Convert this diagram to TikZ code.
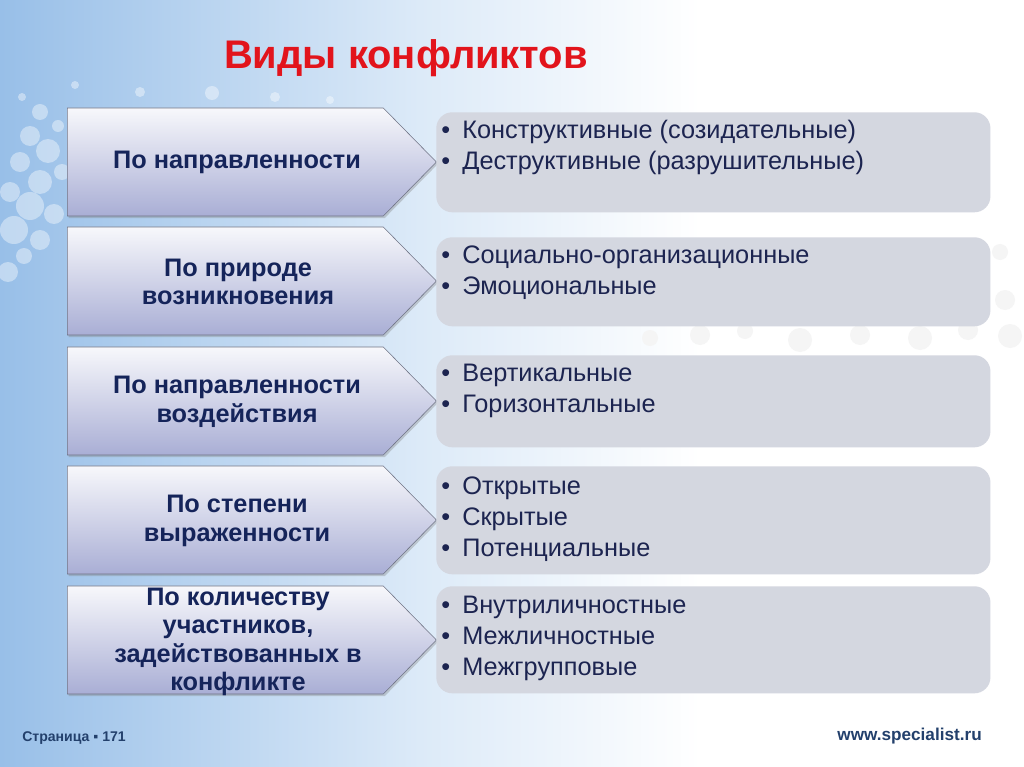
\documentclass[tikz,border=0pt]{standalone}
\usepackage{fontspec}
\setmainfont{Liberation Sans}
\usetikzlibrary{shapes.symbols,shadows}

\definecolor{bgblue}{HTML}{98BFE8}
\definecolor{bgmid}{HTML}{DCEAF8}
\definecolor{titlered}{HTML}{E2141C}
\definecolor{navy}{HTML}{15245A}
\definecolor{itemnavy}{HTML}{1C2450}
\definecolor{chevblue}{HTML}{A9AED5}
\definecolor{chevedge}{HTML}{6F7385}
\definecolor{boxgray}{HTML}{D4D7E0}
\definecolor{footnavy}{HTML}{23406C}

\newcommand{\itm}[1]{\makebox[15pt][l]{•}#1}

\begin{document}
\begin{tikzpicture}[x=0.025cm, y=-0.025cm,
    kind/.style ={signal, signal to=east, signal pointer angle=91,
      draw=chevedge, top color=white!70!chevblue!30, bottom color=chevblue,
      minimum width=9.225cm, minimum height=2.7cm, inner sep=0pt,
      drop shadow={opacity=0.35, shadow xshift=1pt, shadow yshift=-1.5pt}},
    kindtext/.style ={align=center, text=navy, inner sep=0pt,
      font=\bfseries\fontsize{18}{20.3}\selectfont},
    group/.style ={rectangle, rounded corners=0.4cm, fill=boxgray,
      minimum width=13.85cm, anchor=north west, inner sep=0pt},
    items/.style ={anchor=north west, align=left, text=itemnavy,
      inner sep=0pt, font=\fontsize{18}{22}\selectfont},
    foot/.style ={inner sep=0pt, text=footnavy}]
   % background
   \useasboundingbox (0,0) rectangle (1024,767);
   \fill[white] (0,0) rectangle (1024,767);
   \shade[left color=bgblue, right color=bgmid] (0,0) rectangle (420,767);
   \shade[left color=bgmid, right color=white] (420,0) rectangle (700,767);
   \foreach \x/\y/\r in {22/97/4, 40/112/8, 58/126/6, 30/136/10, 48/151/12,
       20/162/10, 62/172/8, 40/182/12, 10/192/10, 30/206/14, 54/214/10,
       14/230/14, 40/240/10, 24/256/8, 8/272/10, 75/85/4, 140/92/5,
       212/93/7, 275/97/5, 330/100/4}
     \fill[white, opacity=0.4] (\x,\y) circle[radius=\r*0.025cm];
   \foreach \x/\y/\r in {650/338/8, 700/335/10, 745/331/8, 800/340/12,
       860/335/10, 920/338/12, 968/330/10, 1005/300/10, 1010/336/12, 1000/252/8}
     \fill[gray!8] (\x,\y) circle[radius=\r*0.025cm];

   % title
   \node[font=\bfseries\fontsize{28.4}{32}\selectfont, text=titlered] (heading) at (406,58) {Виды конфликтов};

   % categories
   \node[kind, anchor=west] (k1) at (67,162) {};
   \node[kind, anchor=west] (k2) at (67,281) {};
   \node[kind, anchor=west] (k3) at (67,401) {};
   \node[kind, anchor=west] (k4) at (67,520) {};
   \node[kind, anchor=west] (k5) at (67,640) {};

   \node[kindtext] (n1) at (237,162) {По направленности};
   \node[kindtext] (n2) at (238,282) {По природе\\возникновения};
   \node[kindtext] (n3) at (237,402) {По направленности\\воздействия};
   \node[kindtext] (n4) at (237,521) {По степени\\выраженности};
   \node[kindtext] (n5) at (238,642) {По количеству\\участников,\\задействованных в\\конфликте};

   % kinds
   \node[group, minimum height=2.5cm] (g1) at (436,112) {};
   \node[group, minimum height=2.225cm] (g2) at (436,237) {};
   \node[group, minimum height=2.3cm] (g3) at (436,355) {};
   \node[group, minimum height=2.7cm] (g4) at (436,466) {};
   \node[group, minimum height=2.675cm] (g5) at (436,586) {};

   \node[items] (l1) at (441,120) {\itm{Конструктивные (созидательные)}\\\itm{Деструктивные (разрушительные)}};
   \node[items] (l2) at (441,246) {\itm{Социально-организационные}\\\itm{Эмоциональные}};
   \node[items] (l3) at (441,364) {\itm{Вертикальные}\\\itm{Горизонтальные}};
   \node[items] (l4) at (441,477) {\itm{Открытые}\\\itm{Скрытые}\\\itm{Потенциальные}};
   \node[items] (l5) at (441,596) {\itm{Внутриличностные}\\\itm{Межличностные}\\\itm{Межгрупповые}};

   % footer
   \node[foot, anchor=west, font=\bfseries\fontsize{10}{12}\selectfont] (page) at (22,738) {Страница ▪ 171};
   \node[foot, anchor=east, font=\bfseries\fontsize{12.2}{14}\selectfont] (site) at (982,736) {www.specialist.ru};
\end{tikzpicture}
\end{document}
